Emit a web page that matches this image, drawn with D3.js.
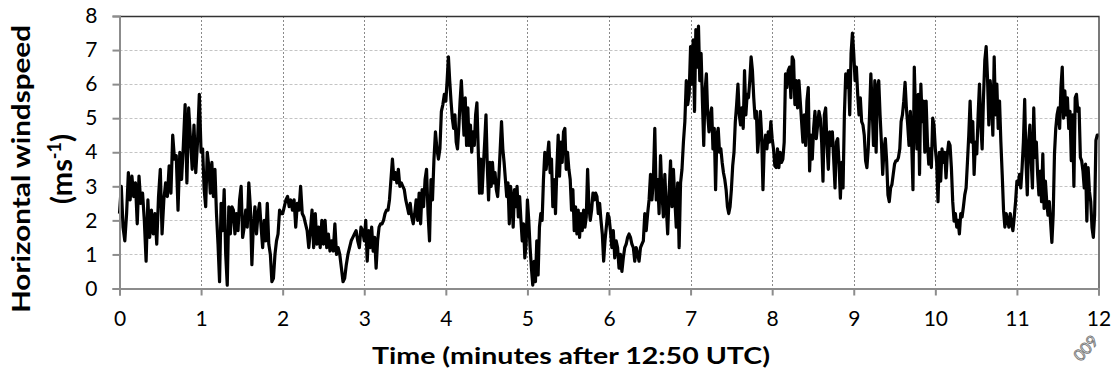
<!DOCTYPE html>
<html><head><meta charset="utf-8">
<script src="https://cdn.jsdelivr.net/npm/d3@7"></script>
<style>body{margin:0;background:#fff}svg{display:block}</style>
</head><body>
<svg id="c" width="1111" height="374"></svg>
<script>
// Horizontal windspeed (m/s), one array per minute after 12:50 UTC; samples evenly spaced in each minute
const speedMin0 = [2.2,3.0,1.8,1.4,2.2,3.4,2.6,3.3,2.7,3.1,1.9,3.3,2.5,2.8,2.0,0.8,2.6,1.5,2.3,1.6,2.2,1.3,2.7,3.5,1.6,2.6,3.1,2.7,3.6,2.8,4.5,3.8,3.9,2.3,4.0,3.2,4.2,5.4,3.1,5.3,4.4,3.5,4.8,3.4,4.3,5.7];
const speedMin1 = [4.0,4.1,2.9,2.4,4.0,3.6,2.8,3.7,2.7,3.5,2.2,1.3,0.2,2.5,1.7,2.9,1.0,0.1,2.4,1.6,2.4,2.3,1.6,2.2,1.7,2.6,3.0,1.5,1.8,2.3,1.8,3.1,2.4,0.7,1.9,2.4,1.6,2.2,2.5,1.8,1.2,2.0,1.4,2.5,1.3,1.0,0.2,0.3,1.0,1.4,1.6,2.3,2.2];
const speedMin2 = [2.2,2.4,2.6,2.7,2.4,2.6,2.3,2.6,1.8,2.5,2.3,3.0,2.2,2.1,1.9,1.7,1.2,1.7,2.3,1.2,2.2,1.3,1.8,1.2,2.0,1.3,2.0,1.2,1.6,1.1,1.4,1.1,1.9,1.0,1.2,1.0,0.6,0.2,0.3,0.7,1.0,1.2,1.4,1.5,1.6,1.7,1.4,1.2,1.8,1.7];
const speedMin3 = [1.4,2.0,0.8,1.7,1.2,1.8,1.1,1.5,0.6,1.4,1.8,1.9,1.9,2.0,2.2,2.3,2.3,2.6,3.2,3.8,3.2,3.4,3.1,3.5,3.0,3.1,3.0,2.9,2.6,2.4,2.2,2.5,2.1,1.9,2.2,2.6,2.0,2.8,1.9,2.9,2.4,3.2,3.5,2.2,1.4,3.2,2.6,3.8,4.6,4.1,3.8,4.1,5.2,5.4,5.7];
const speedMin4 = [5.5,6.1,6.8,6.1,5.5,5.0,4.7,5.1,4.3,4.1,4.7,5.5,6.1,5.3,4.5,5.6,4.2,5.3,4.2,4.8,4.0,4.6,4.2,5.1,5.45,4.1,2.8,3.8,2.8,3.6,4.3,5.1,3.6,2.6,3.7,3.0,3.7,3.1,3.4,2.9,2.7,3.3,4.1,4.9,4.1,3.7,3.2,2.7,3.1,1.9,3.0,2.6,1.8,2.9,2.4,3.0,2.1,2.7,2.0,1.4,1.9,0.9,1.3];
const speedMin5 = [2.6,2.0,1.2,0.6,0.1,0.8,0.2,1.4,0.4,1.8,2.2,2.0,3.2,4.0,3.5,3.9,4.3,3.4,3.8,2.4,3.2,2.2,3.5,4.5,3.3,4.3,3.7,4.6,4.7,3.5,4.0,3.5,3.2,2.3,2.9,1.7,2.4,1.6,2.3,1.5,2.2,1.7,2.3,1.8,2.1,3.5,2.4,2.0,2.3,2.8,2.6,2.8,2.7,2.2,2.5,2.0,1.6,0.8,1.4,1.8,2.2];
const speedMin6 = [2.1,1.7,1.2,1.7,0.9,1.4,1.2,0.6,1.0,0.5,0.9,1.2,1.3,1.5,1.6,1.5,1.3,1.2,0.8,1.2,1.0,0.8,1.2,1.3,1.4,2.2,1.7,2.2,2.6,3.35,2.6,3.2,4.7,2.6,3.2,2.2,3.9,2.8,2.1,3.35,2.4,1.6,2.8,3.75,2.4,3.5,2.6,1.8,3.1,1.2,3.1,3.5,4.3,4.9,6.1,5.4,5.7];
const speedMin7 = [7.1,6.0,7.3,5.2,7.6,6.5,7.7,6.1,6.9,5.5,4.2,5.8,6.3,5.1,4.6,5.1,5.3,4.1,4.7,2.9,4.5,4.7,4.0,4.1,3.7,3.4,3.2,2.9,2.4,2.2,2.4,2.9,3.6,4.0,4.9,5.4,6.0,5.1,4.8,5.3,4.7,6.4,5.1,5.7,5.6,6.1,6.8,6.4,5.6,5.0,5.2,4.0,4.5,5.2,4.5,2.9,4.2,4.5,4.1,4.6,4.3,4.9];
const speedMin8 = [4.4,4.1,3.6,3.55,4.1,3.55,4.0,3.7,3.8,4.3,6.3,5.9,6.4,6.5,5.6,6.8,6.7,5.4,6.1,5.3,6.1,5.5,4.9,4.3,5.1,4.2,5.5,5.9,3.45,4.5,3.8,4.7,5.2,4.4,4.8,5.2,5.0,4.3,3.15,5.1,5.3,4.2,3.5,4.6,4.2,4.6,3.8,2.95,4.3,4.4,3.65,2.65,3.7,2.95,5.1,6.3,5.9,6.4,5.1,6.9,7.5];
const speedMin9 = [6.9,6.1,6.5,5.7,5.1,5.6,4.9,4.8,4.5,3.75,3.55,4.1,5.1,6.3,5.3,4.2,6.1,4.0,5.9,6.1,5.1,4.3,3.35,4.1,4.4,3.75,2.75,2.55,2.95,3.05,3.35,3.65,3.75,3.75,3.85,4.1,4.9,5.1,5.5,6.05,5.3,4.8,4.2,5.2,4.3,2.9,6.5,5.1,4.1,5.7,3.35,6.0,4.9,5.5,4.0,5.5,4.3,3.65,4.1,3.55,5.0,4.8];
const speedMin10 = [4.1,3.7,2.55,4.0,3.15,4.1,3.7,4.0,3.25,3.95,4.3,4.2,3.55,2.55,1.98,2.2,1.8,2.0,1.6,2.2,2.1,2.4,2.75,2.95,3.7,4.5,5.5,4.3,4.9,3.35,4.3,3.95,5.1,6.0,4.8,4.1,5.6,6.7,7.1,6.2,4.8,6.1,5.6,4.5,6.8,5.1,6.0,4.7,5.5,4.3,3.35,2.3,1.8,2.2,2.0,1.8,2.2,1.9,1.7,2.1,2.55];
const speedMin11 = [3.15,3.05,3.35,2.95,3.55,4.3,5.55,3.75,2.75,4.3,4.8,3.75,2.95,5.3,3.85,4.3,3.35,2.75,3.45,2.55,3.95,2.35,3.15,2.55,2.15,2.55,1.95,1.35,2.15,3.95,4.7,5.1,5.3,4.7,5.9,6.5,5.0,5.8,5.1,5.6,4.7,5.2,3.75,5.1,3.0,5.6,5.7,5.2,5.3,3.85,3.75,3.45,2.95,3.65,1.98,3.55,2.85,2.55,1.78,1.5,2.15,4.35,4.5];
const minuteTicks = [0,1,2,3,4,5,6,7,8,9,10,11,12];
const speedTicks = [0,1,2,3,4,5,6,7,8];

const minutes = [speedMin0,speedMin1,speedMin2,speedMin3,speedMin4,speedMin5,speedMin6,speedMin7,speedMin8,speedMin9,speedMin10,speedMin11];
const series = [];
minutes.forEach((arr, m) => {
  const n = arr.length;
  arr.forEach((v, j) => series.push({t: m + j / n, v}));
});
series.push({t: 12, v: speedMin11[speedMin11.length - 1]});

const svg = d3.select('#c');
const L = 119.5, R = 1098.5, T = 16, B = 288.5;
const x = d3.scaleLinear().domain([0, 12]).range([L, R]);
const y = d3.scaleLinear().domain([0, 8]).range([B, T]);
const font = "Lato, 'Open Sans', sans-serif";

// horizontal grid
svg.append('g').selectAll('line').data(speedTicks.slice(1)).join('line')
  .attr('x1', L).attr('x2', R).attr('y1', d => Math.round(y(d)) + 0.5).attr('y2', d => Math.round(y(d)) + 0.5)
  .attr('stroke', '#c4c4c4').attr('stroke-width', 1).attr('stroke-dasharray', '3,2');
// vertical grid
svg.append('g').selectAll('line').data(minuteTicks.slice(1, -1)).join('line')
  .attr('x1', d => Math.round(x(d)) + 0.5).attr('x2', d => Math.round(x(d)) + 0.5).attr('y1', T).attr('y2', B)
  .attr('stroke', '#8a8a8a').attr('stroke-width', 1).attr('stroke-dasharray', '2,2');

// plot border top/right
svg.append('path').attr('d', `M${L},${T + 0.5}H${R + 0.5}V${B}`).attr('fill', 'none').attr('stroke', '#333').attr('stroke-width', 1.3);

// line
const line = d3.line().x(d => x(d.t)).y(d => y(d.v));
svg.append('path').datum(series).attr('d', line).attr('fill', 'none')
  .attr('stroke', '#000').attr('stroke-width', 3.2).attr('stroke-linejoin', 'round');

// axes
const yAxis = d3.axisLeft(y).tickValues(speedTicks).tickSize(7).tickPadding(15).tickFormat(d3.format('d'));
const xAxis = d3.axisBottom(x).tickValues(minuteTicks).tickSize(7).tickPadding(16).tickFormat(d3.format('d'));
const gy = svg.append('g').attr('transform', `translate(${L},0)`).call(yAxis);
const gx = svg.append('g').attr('transform', `translate(0,${B})`).call(xAxis);
[gx, gy].forEach(g => {
  g.selectAll('path,line').attr('stroke', '#8c8c8c').attr('stroke-width', 2);
  g.selectAll('text').attr('fill', '#000').style('font-family', font).style('font-size', '21px');
});

// titles
svg.append('text').attr('x', 571).attr('y', 364).attr('text-anchor', 'middle')
  .attr('textLength', 398).attr('lengthAdjust', 'spacingAndGlyphs')
  .style('font-family', font).style('font-weight', 'bold').style('font-size', '22px')
  .text('Time (minutes after 12:50 UTC)');
const yt = svg.append('text').attr('transform', 'translate(0,169) rotate(-90)').attr('text-anchor', 'middle')
  .style('font-family', font).style('font-weight', 'bold').style('font-size', '25px');
yt.append('tspan').attr('x', 0).attr('y', 30).attr('textLength', 288).attr('lengthAdjust', 'spacingAndGlyphs').text('Horizontal windspeed');
const t2 = yt.append('tspan').attr('x', 0).attr('y', 72).style('font-size', '29px').text('(ms');
t2.append('tspan').attr('dy', -11).style('font-size', '18px').text('-1');
t2.append('tspan').attr('dy', 11).style('font-size', '29px').text(')');

// watermark
svg.append('text').attr('transform', 'translate(1090,352) rotate(-48)').attr('text-anchor', 'middle')
  .style('font-family', font).style('font-size', '16px').attr('fill', '#fff').attr('stroke', '#777').attr('stroke-width', 0.9)
  .text('009');
</script>
</body></html>
